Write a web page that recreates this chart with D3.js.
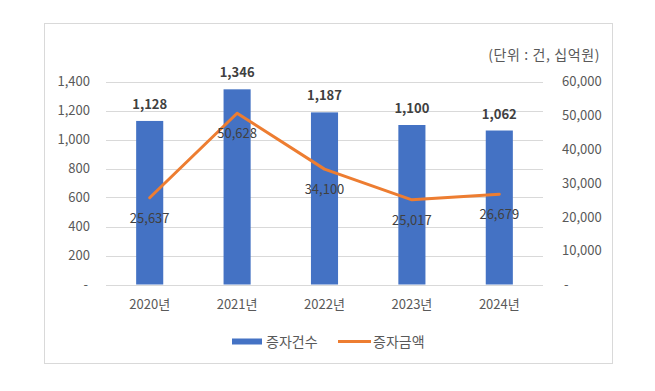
<!DOCTYPE html>
<html><head><meta charset="utf-8">
<script src="https://cdn.jsdelivr.net/npm/d3@7"></script>
<style>
html,body{margin:0;padding:0;background:#fff;}
text{font-family:"Noto Sans CJK KR","Noto Sans",sans-serif;}
</style></head>
<body><svg id="c" width="655" height="391"></svg>
<script>
const categories = ["2020년","2021년","2022년","2023년","2024년"];
const countValues = [1128, 1346, 1187, 1100, 1062];
const amountValues = [25637, 50628, 34100, 25017, 26679];
const leftTicks = [0,200,400,600,800,1000,1200,1400];
const rightTicks = [0,10000,20000,30000,40000,50000,60000];
const seriesNames = ["증자건수","증자금액"];
const unitLabel = "(단위 : 건, 십억원)";

const svg = d3.select("#c");
svg.append("rect").attr("x",44.5).attr("y",23.5).attr("width",568).attr("height",340)
  .attr("fill","#fff").attr("stroke","#d9d9d9").attr("stroke-width",1);

const L=106, R=543, T=81.5, B=284.5;
const x = d3.scaleBand().domain(categories).range([L,R]).paddingInner(0.69).paddingOuter(0.345);
const yL = d3.scaleLinear().domain([0,1400]).range([B,T]);
const yR = d3.scaleLinear().domain([0,60000]).range([B,T]);
const fmt = d3.format(",");

// gridlines
svg.append("g").selectAll("line").data(leftTicks).join("line")
  .attr("x1",L).attr("x2",R).attr("y1",d=>Math.round(yL(d))+0.5).attr("y2",d=>Math.round(yL(d))+0.5)
  .attr("stroke","#d9d9d9").attr("stroke-width",1);

// left axis labels
const axL = svg.append("g").attr("transform",`translate(90,0)`)
  .call(d3.axisLeft(yL).tickValues(leftTicks).tickSize(0).tickPadding(0).tickFormat(d=>d===0?"-":fmt(d)));
axL.select(".domain").remove();
axL.selectAll("text").attr("font-size",13).attr("fill","#595959")
  .attr("dx",d=>d===0?-2:0);

// right axis labels
const axR = svg.append("g").attr("transform",`translate(562,0)`)
  .call(d3.axisRight(yR).tickValues(rightTicks).tickSize(0).tickPadding(0).tickFormat(d=>d===0?"-":fmt(d)));
axR.select(".domain").remove();
axR.selectAll("text").attr("font-size",13).attr("fill","#595959").attr("dx",d=>d===0?2:0);

// x axis labels
const axX = svg.append("g").attr("transform",`translate(0,${B})`)
  .call(d3.axisBottom(x).tickSize(0).tickPadding(15));
axX.select(".domain").remove();
axX.selectAll("text").attr("font-size",13).attr("fill","#595959");

// bars
svg.append("g").selectAll("rect").data(countValues).join("rect")
  .attr("x",(d,i)=>x(categories[i])).attr("width",x.bandwidth())
  .attr("y",d=>yL(d)).attr("height",d=>B-yL(d))
  .attr("fill","#4472c4");

// line
const line = d3.line().x((d,i)=>x(categories[i])+x.bandwidth()/2).y(d=>yR(d));
svg.append("path").datum(amountValues).attr("d",line)
  .attr("fill","none").attr("stroke","#ed7d31").attr("stroke-width",3)
  .attr("stroke-linejoin","round").attr("stroke-linecap","round");

// bar labels
svg.append("g").selectAll("text").data(countValues).join("text")
  .attr("x",(d,i)=>x(categories[i])+x.bandwidth()/2).attr("y",d=>yL(d)-12)
  .attr("text-anchor","middle").attr("font-size",13).attr("font-weight","bold").attr("fill","#404040")
  .text(d=>fmt(d));

// line labels
svg.append("g").selectAll("text").data(amountValues).join("text")
  .attr("x",(d,i)=>x(categories[i])+x.bandwidth()/2).attr("y",d=>yR(d)+25)
  .attr("text-anchor","middle").attr("font-size",13).attr("fill","#404040")
  .text(d=>fmt(d));

// unit label
svg.append("text").attr("x",600).attr("y",60).attr("text-anchor","end")
  .attr("font-size",14).attr("letter-spacing",0.6).attr("fill","#595959").text(unitLabel);

// legend
const lg = svg.append("g");
lg.append("rect").attr("x",232).attr("y",338.5).attr("width",30).attr("height",6).attr("fill","#4472c4");
lg.append("text").attr("x",266).attr("y",347).attr("font-size",14).attr("fill","#595959").text(seriesNames[0]);
lg.append("line").attr("x1",338).attr("x2",371).attr("y1",341.5).attr("y2",341.5)
  .attr("stroke","#ed7d31").attr("stroke-width",3);
lg.append("text").attr("x",373).attr("y",347).attr("font-size",14).attr("fill","#595959").text(seriesNames[1]);
</script></body></html>
